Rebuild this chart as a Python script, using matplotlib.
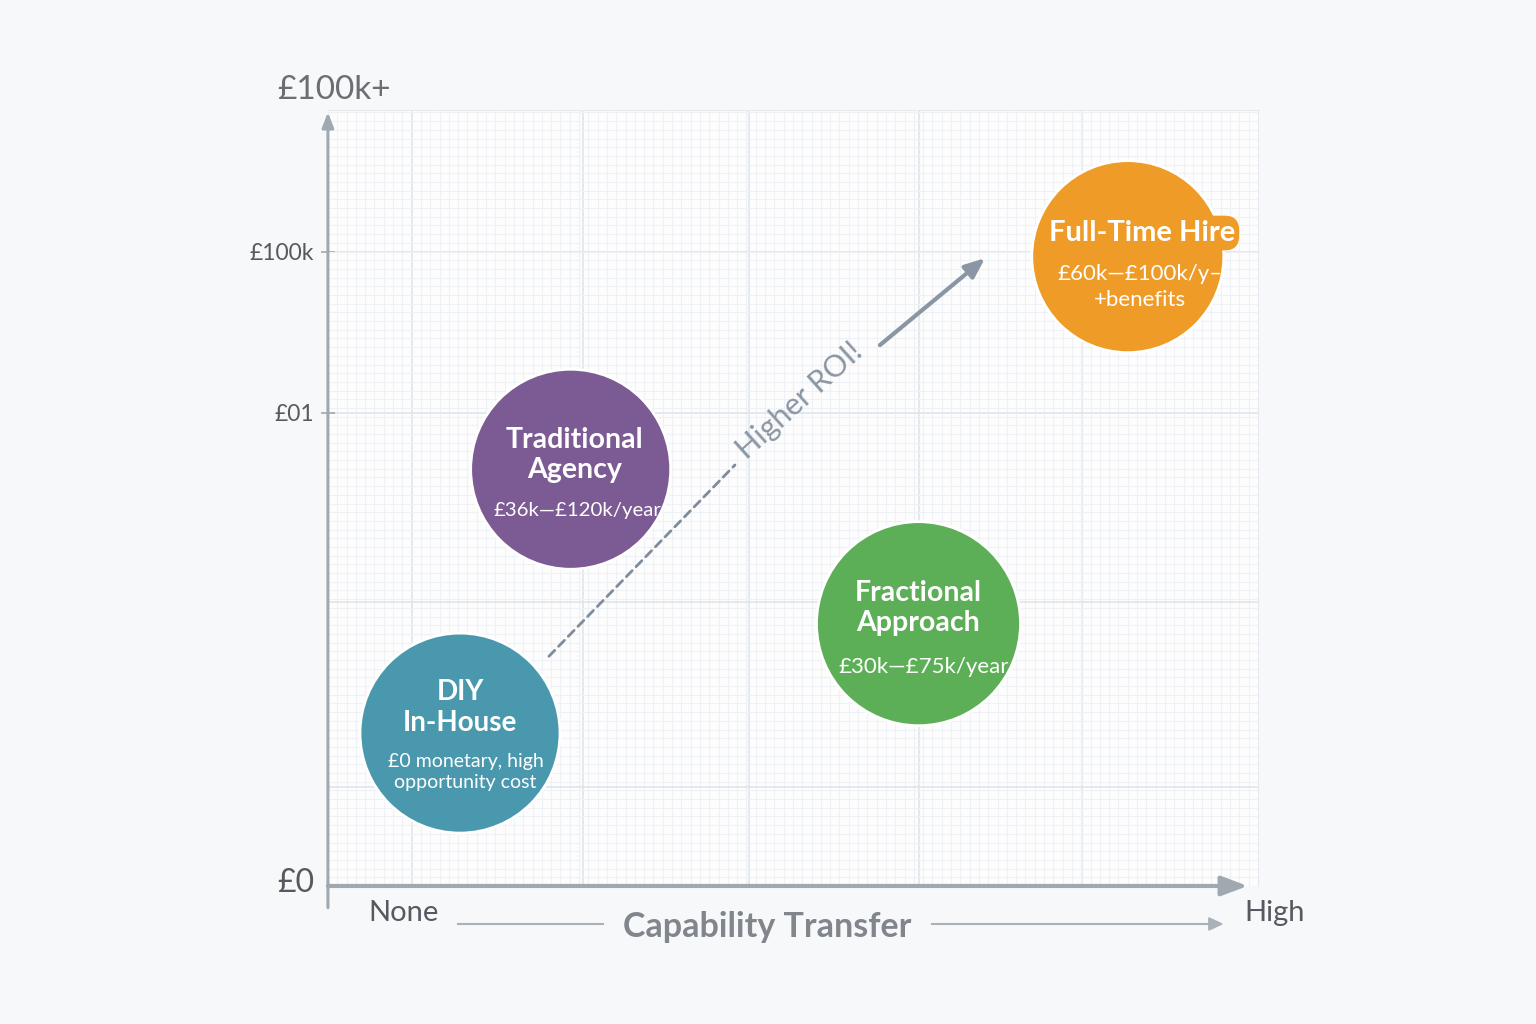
import matplotlib.pyplot as plt
from matplotlib.ticker import MultipleLocator

plt.rcParams['font.family'] = ['Lato', 'DejaVu Sans']

# data
options = ['DIY\nIn-House', 'Traditional\nAgency', 'Fractional\nApproach', 'Full-Time Hire']
cost_text = ['£0 monetary, high\nopportunity cost', '£36k—£120k/year', '£30k—£75k/year', '£60k—£100k/y–\n+benefits']
capability = [1.42, 2.61, 6.35, 8.6]     # 0 = none, 10 = high
cost = [19.7, 53.7, 33.8, 81.1]          # 0 = £0, 100 = £100k+
bubble_r = [100, 100, 102, 96]           # radius in px
colors = ['#4a98ae', '#7c5a94', '#5caf56', '#ef9b28']

ytick_pos = [12.8, 36.6, 61.0, 81.7]
ytick_lab = ['', '', '£01', '£100k']
xgrid_pos = [0.9, 2.74, 4.53, 6.35, 8.11]

# text layout inside bubbles (offset points)
title_off = [(0, 18.5), (3, 10), (0, 11.5), (10, 17)]
sub_off = [(4, -28), (5, -29.5), (4, -31), (9, -22)]
title_fs = [20, 20.5, 20.5, 21]
sub_fs = [14, 14.7, 16, 16]
sub_ls = [1.3, 1.4, 1.4, 1.4]

fig = plt.figure(figsize=(15.36, 10.24), dpi=100, facecolor='#f7f8f9')
ax = fig.add_axes([0.2135, 0.1348, 0.6055, 0.7578], facecolor='#fdfdfe')
ax.set_xlim(0, 10)
ax.set_ylim(0, 100)

# grid
ax.set_xticks(xgrid_pos)
ax.set_xticklabels([])
ax.xaxis.set_minor_locator(MultipleLocator(0.1))
ax.set_yticks(ytick_pos)
ax.set_yticklabels(ytick_lab, fontsize=16.5, color='#555a60')
ax.yaxis.set_minor_locator(MultipleLocator(1.12))
ax.grid(which='major', color='#dfe5ec', lw=1.2)
ax.grid(which='minor', color='#eef1f5', lw=0.8)
ax.tick_params(axis='x', which='both', length=0)
ax.tick_params(axis='y', which='minor', length=0)
ax.tick_params(axis='y', which='major', length=10, direction='inout', color='#a0a8b0', width=1.2, pad=5)
for t in ax.yaxis.get_major_ticks()[:2]:
    t.tick1line.set_visible(False)
for s in ['left', 'bottom']:
    ax.spines[s].set_visible(False)
for s in ['top', 'right']:
    ax.spines[s].set_color('#e6eaef')
ax.set_axisbelow(True)

# axes arrows
ax.annotate('', xy=(0.989, 0), xytext=(0, 0), xycoords='axes fraction',
            arrowprops=dict(arrowstyle='-|>,head_length=1.6,head_width=0.6', color='#a0a8b0', lw=3,
                            shrinkA=0, shrinkB=0), annotation_clip=False, zorder=5)
ax.annotate('', xy=(0, 0.997), xytext=(0, -0.028), xycoords='axes fraction',
            arrowprops=dict(arrowstyle='-|>,head_length=0.9,head_width=0.35', color='#a0a8b0', lw=2.2,
                            shrinkA=0, shrinkB=0), annotation_clip=False, zorder=5)

# bubbles
sizes = [(2 * r * 0.72) ** 2 for r in bubble_r]
ax.scatter(capability, cost, s=sizes, c=colors, edgecolors='white', linewidths=2, zorder=4, clip_on=False)

for i in range(len(options)):
    bb = None
    if i == 3:
        bb = dict(boxstyle='round,pad=0.15,rounding_size=0.5', fc=colors[i], ec='none')
    ax.annotate(options[i], (capability[i], cost[i]), xytext=title_off[i], textcoords='offset points',
                ha='center', va='center', color='white', fontsize=title_fs[i], fontweight='bold',
                linespacing=1.2, zorder=6, bbox=bb)
    ax.annotate(cost_text[i], (capability[i], cost[i]), xytext=sub_off[i], textcoords='offset points',
                ha='center', va='center', color='white', fontsize=sub_fs[i],
                linespacing=sub_ls[i], zorder=6)

# Higher ROI arrow
ax.annotate('', xy=(4.376, 54.25), xytext=(2.376, 29.6),
            arrowprops=dict(arrowstyle='-', color='#7f8c99', lw=2, ls=(0, (3, 2)), shrinkA=0, shrinkB=0), zorder=3)
ax.annotate('', xy=(7.065, 80.9), xytext=(5.935, 69.7),
            arrowprops=dict(arrowstyle='-|>,head_length=1.2,head_width=0.5', color='#8a96a3', lw=3,
                            shrinkA=0, shrinkB=0), zorder=3)
ax.text(5.075, 62.6, 'Higher ROI!', rotation=42, ha='center', va='center',
        fontsize=22, color='#8a96a3', rotation_mode='anchor', zorder=3)

# axis texts
fig.text(0.2174, 0.912, '£100k+', ha='center', va='center', fontsize=24, color='#6b6f74')
fig.text(0.2045, 0.1377, '£0', ha='right', va='center', fontsize=23, color='#555a60')
fig.text(0.263, 0.1084, 'None', ha='center', va='center', fontsize=21, color='#555a60')
fig.text(0.830, 0.1084, 'High', ha='center', va='center', fontsize=21, color='#555a60')
fig.text(0.4993, 0.0947, 'Capability Transfer', ha='center', va='center', fontsize=24.5,
         fontweight='bold', color='#80868c')
fig.add_artist(plt.Line2D([0.298, 0.3926], [0.0977, 0.0977], color='#a9b1b9', lw=1.5))
fig.patches.append(plt.Polygon([[0.7956, 0.0977], [0.787, 0.1037], [0.787, 0.0917]],
                               closed=True, color='#a9b1b9', transform=fig.transFigure, figure=fig))
fig.add_artist(plt.Line2D([0.6068, 0.79], [0.0977, 0.0977], color='#a9b1b9', lw=1.5))

fig.savefig('out.png', dpi=100, facecolor=fig.get_facecolor())
